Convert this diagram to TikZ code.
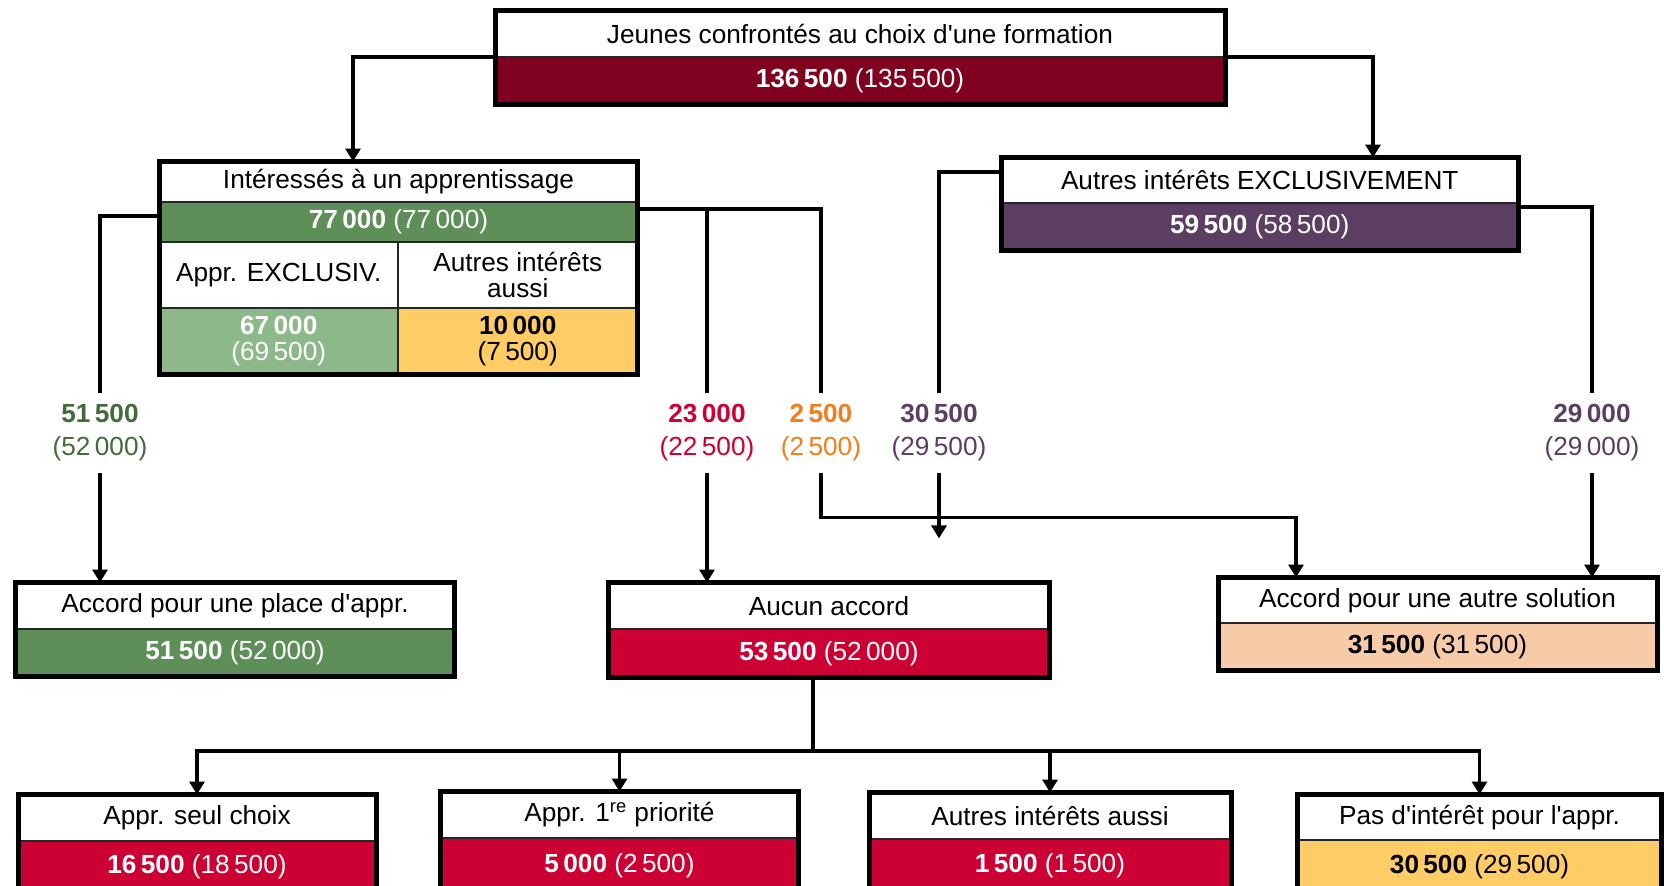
\documentclass[tikz,border=0pt]{standalone}
\usepackage{fontspec}
\setmainfont{Liberation Sans}
\usetikzlibrary{arrows.meta,calc}
\definecolor{mainRed}{HTML}{800020}
\definecolor{apprGreen}{HTML}{5E8F58}
\definecolor{apprLight}{HTML}{8DB88A}
\definecolor{otherGold}{HTML}{FFCC66}
\definecolor{otherPurple}{HTML}{5C3E62}
\definecolor{noRed}{HTML}{CC0033}
\definecolor{solPeach}{HTML}{F8CBA8}
\definecolor{labelGreen}{HTML}{426B3A}
\definecolor{labelOrange}{HTML}{F07D1E}
\colorlet{labelPurple}{otherPurple}
\newcommand\Apos{\textquotesingle}
\tikzset{
  headbox/.style={anchor=north west,fill=white,inner sep=0pt,outer sep=0pt,align=center},
  valbox/.style={anchor=north,inner sep=0pt,outer sep=0pt,align=center},
  valMain/.style={fill=mainRed,text=white},
  valGreen/.style={fill=apprGreen,text=white},
  valLight/.style={fill=apprLight,text=white},
  valGold/.style={fill=otherGold,text=black},
  valPurple/.style={fill=otherPurple,text=white},
  valRed/.style={fill=noRed,text=white},
  valPeach/.style={fill=solPeach,text=black},
  divider/.style={line width=1pt,black!85},
  frame/.style={line width=2.5pt},
  link/.style={line width=1.8pt},
  conn/.style={link,-{Triangle[length=6.5pt,width=7.5pt]}},
  flowlbl/.style={minimum height=40pt,inner sep=0pt,align=center,font=\fontsize{13.1}{16.5}\selectfont},
}
\NewDocumentCommand\DrawBox{mmmmmmmmm}%
{%
\node[headbox,minimum width={#5*0.5pt},minimum height={#6*0.5pt}] (#1) at (#3,#4) {#8};%
\node[valbox,#2,minimum width={#5*0.5pt},minimum height={#7*0.5pt}] (#1v) at (#1.south) {#9};%
\draw[divider] (#1.south west) -- (#1.south east);%
\draw[frame] (#1.north west) rectangle (#1v.south east);%
}
\begin{document}
\begin{tikzpicture}[x=0.5pt,y=-0.5pt,font=\fontsize{13.1}{13}\selectfont]
\useasboundingbox (0,0) rectangle (1664,885);
\clip (0,0) rectangle (1664,885);
\DrawBox{main}{valMain}{495}{10.5}{730}{46.5}{47.5}{Jeunes confrontés au choix d\Apos une formation}{\textbf{136\,500} (135\,500)}
\DrawBox{excl}{valPurple}{1001}{157.5}{517.5}{45.5}{47.5}{Autres intérêts EXCLUSIVEMENT}{\textbf{59\,500} (58\,500)}
\node[headbox,minimum width=239pt,minimum height=20.25pt] (inter) at (159.5,161.5) {Intéressés à un apprentissage};
\node[valbox,valGreen,minimum width=239pt,minimum height=20pt] (interv) at (inter.south) {\textbf{77\,000} (77\,000)};
\node[headbox,minimum width=119.25pt,minimum height=33pt] (exclA) at (interv.south west) {Appr. EXCLUSIV.};
\node[headbox,minimum width=119.75pt,minimum height=33pt] (aussiA) at (exclA.north east) {Autres intérêts\\aussi};
\node[valbox,valLight,minimum width=119.25pt,minimum height=33.25pt] (exclAv) at (exclA.south) {\textbf{67\,000}\\(69\,500)};
\node[valbox,valGold,minimum width=119.75pt,minimum height=33.25pt] (aussiAv) at (aussiA.south) {\textbf{10\,000}\\(7\,500)};
\draw[divider] (inter.south west) -- (inter.south east) (interv.south west) -- (interv.south east)
  (exclA.south west) -- (aussiA.south east) (exclA.north east) -- (exclAv.south east);
\draw[frame] (inter.north west) rectangle (aussiAv.south east);
\DrawBox{place}{valGreen}{15.5}{582.5}{439}{46.5}{47.5}{Accord pour une place d\Apos appr.}{\textbf{51\,500} (52\,000)}
\DrawBox{aucun}{valRed}{608.5}{582.5}{441}{46.5}{48.5}{Aucun accord}{\textbf{53\,500} (52\,000)}
\DrawBox{sol}{valPeach}{1218}{577.5}{439}{45.5}{47.5}{Accord pour une autre solution}{\textbf{31\,500} (31\,500)}
\DrawBox{seul}{valRed}{18}{794.5}{358}{46.5}{52}{Appr. seul choix}{\textbf{16\,500} (18\,500)}
\DrawBox{prio}{valRed}{440.5}{791.5}{358}{46.5}{55}{Appr. 1\textsuperscript{re} priorité}{\textbf{5\,000} (2\,500)}
\DrawBox{aussi}{valRed}{869}{792.5}{362}{46.5}{54}{Autres intérêts aussi}{\textbf{1\,500} (1\,500)}
\DrawBox{pas}{valGold}{1297.5}{794.5}{364}{45.5}{53}{Pas d\Apos intérêt pour l\Apos appr.}{\textbf{30\,500} (29\,500)}
\node[flowlbl,text=labelGreen] (lbPlace) at (100,433) {\textbf{51\,500}\\(52\,000)};
\node[flowlbl,text=noRed] (lbAucun) at (707,433) {\textbf{23\,000}\\(22\,500)};
\node[flowlbl,text=labelOrange] (lbAutre) at (821,433) {\textbf{2\,500}\\(2\,500)};
\node[flowlbl,text=labelPurple] (lbExcl) at (939,433) {\textbf{30\,500}\\(29\,500)};
\node[flowlbl,text=labelPurple] (lbSol) at (1592,433) {\textbf{29\,000}\\(29\,000)};
\draw[conn] (main.south west) -| ($(inter.north west)+(193.5,0)$);
\draw[conn] (main.south east) -| ($(excl.north west)+(372,0)$);
\draw[link] ($(interv.west)+(0,-6)$) -| (lbPlace.north);
\draw[conn] (lbPlace.south) -- (lbPlace.south |- place.north);
\draw[link] ($(interv.east)+(0,-13)$) -| (lbAucun.north);
\draw[link] ($(interv.east)+(0,-13)$) -| (lbAutre.north);
\draw[conn] (lbAucun.south) -- (lbAucun.south |- aucun.north);
\draw[conn] (lbAutre.south) -- ++(0,44) -| ($(sol.north west)+(78,0)$);
\draw[link] ($(excl.west)+(0,-8)$) -| (lbExcl.north);
\draw[conn] (lbExcl.south) -- ++(0,65);
\draw[link] ($(exclv.east)+(0,-20)$) -| (lbSol.north);
\draw[conn] (lbSol.south) -- (lbSol.south |- sol.north);
\coordinate (split) at (813,751);
\draw[link] (split |- aucunv.south) -- (split);
\foreach \tgt in {seul,prio,aussi,pas}
  \draw[conn] (split) -| (\tgt.north);
\end{tikzpicture}
\end{document}
